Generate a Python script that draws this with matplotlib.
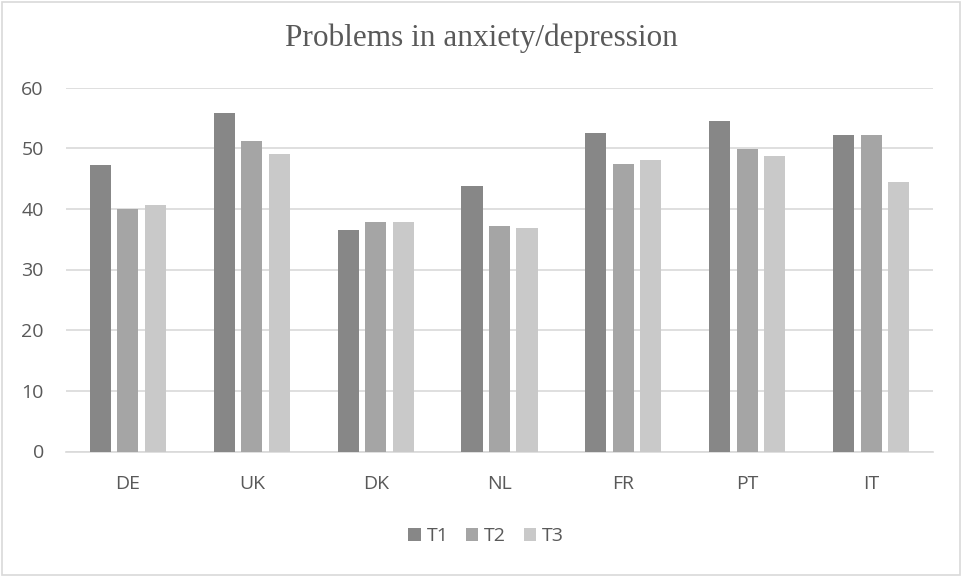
import numpy as np
import matplotlib.pyplot as plt
from matplotlib.patches import Rectangle

countries = ['DE', 'UK', 'DK', 'NL', 'FR', 'PT', 'IT']
t1 = [47.3, 55.8, 36.5, 43.8, 52.5, 54.5, 52.2]
t2 = [40.0, 51.1, 37.9, 37.1, 47.4, 49.9, 52.2]
t3 = [40.6, 49.0, 37.9, 36.8, 48.0, 48.7, 44.4]
series = ['T1', 'T2', 'T3']
colors = ['#878787', '#a5a5a5', '#c9c9c9']

plt.rcParams['font.family'] = ['Open Sans', 'DejaVu Sans']

fig = plt.figure(figsize=(9.63, 5.77), dpi=100)
ax = fig.add_axes([66 / 963, 125.5 / 577, 867 / 963, 364 / 577])

x = np.arange(len(countries))
step = 0.222
bw = 0.17
for i, (vals, name, c) in enumerate(zip([t1, t2, t3], series, colors)):
    ax.bar(x + (i - 1) * step, vals, width=bw, color=c, label=name, zorder=3)

ax.set_xlim(-0.5, len(countries) - 0.5)
ax.set_ylim(0, 60)
ax.set_yticks(range(0, 61, 10))
ax.set_xticks(x)
ax.set_xticklabels(countries)
ax.grid(axis='y', color='#d9d9d9', linewidth=1.2, zorder=0)
for s in ['top', 'right', 'left']:
    ax.spines[s].set_visible(False)
ax.spines['bottom'].set_color('#d9d9d9')
ax.spines['bottom'].set_linewidth(1.2)
ax.tick_params(length=0, colors='#595959', labelsize=14)
ax.tick_params(axis='y', pad=16)
ax.tick_params(axis='x', pad=17)

fig.text(0.5, 1 - 38 / 577, 'Problems in anxiety/depression', ha='center', va='center',
         fontsize=22.5, color='#595959', family=['Liberation Serif', 'DejaVu Serif'])

ax.legend(loc='center', bbox_to_anchor=((486 - 66) / 867, (577 - 536 - 125.5) / 364),
          ncol=3, frameon=False, fontsize=14, labelcolor='#595959',
          handlelength=0.65, handleheight=0.65, handletextpad=0.3, columnspacing=0.9)

# chart border
fig.patches.append(Rectangle((2 / 963, 2 / 577), 958 / 963, 573 / 577, transform=fig.transFigure,
                             fill=False, edgecolor='#d9d9d9', linewidth=1.2))

fig.savefig('out.png', dpi=100)
